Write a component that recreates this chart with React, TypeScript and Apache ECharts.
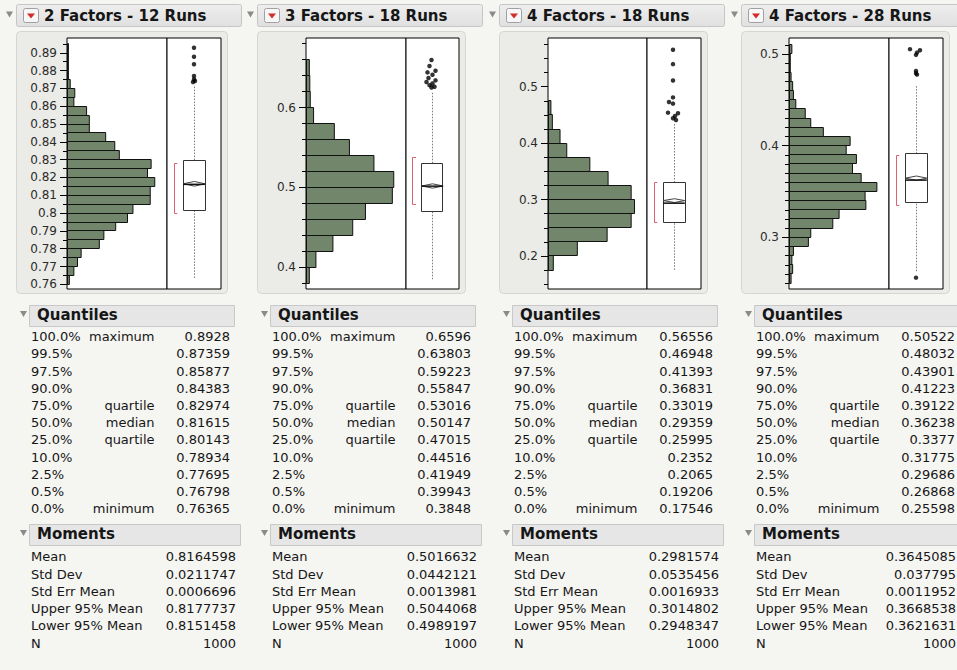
import React, { useEffect, useRef } from "react";
import * as echarts from "echarts";

// ---------------- data ----------------
const titles = ["2 Factors - 12 Runs", "3 Factors - 18 Runs", "4 Factors - 18 Runs", "4 Factors - 28 Runs"];

// histogram bins (low -> high)
const binStart = [0.76, 0.38, 0.175, 0.25];
const binWidth = [0.005, 0.02, 0.025, 0.01];
const counts1 = [2, 7, 11, 15, 35, 40, 53, 66, 72, 91, 91, 96, 88, 92, 57, 52, 42, 24, 24, 21, 7, 8, 3, 1, 1, 1, 1];
const counts2 = [6, 20, 56, 98, 125, 182, 185, 143, 91, 59, 15, 8, 7, 6];
const counts3 = [10, 60, 122, 172, 179, 172, 124, 86, 38, 24, 8, 5];
const counts4 = [2, 4, 3, 5, 24, 27, 55, 63, 97, 96, 111, 91, 80, 85, 72, 77, 43, 27, 20, 8, 5, 4, 2, 1, 1, 3];
const countsAll = [counts1, counts2, counts3, counts4];
const countMax = [110, 212, 206, 127];

// value axis ranges and ticks
const yMin = [0.7574, 0.3726, 0.1415, 0.2436];
const yMax = [0.8983, 0.6871, 0.5863, 0.5174];
const tickFrom = [0.76, 0.38, 0.15, 0.25];
const tickTo = [0.895, 0.68, 0.575, 0.51];
const tickStep = [0.005, 0.02, 0.025, 0.01];
const labels1 = [0.76, 0.77, 0.78, 0.79, 0.8, 0.81, 0.82, 0.83, 0.84, 0.85, 0.86, 0.87, 0.88, 0.89];
const labels2 = [0.4, 0.5, 0.6];
const labels3 = [0.2, 0.3, 0.4, 0.5];
const labels4 = [0.3, 0.4, 0.5];
const labelsAll = [labels1, labels2, labels3, labels4];

// box plot extras
const whiskerLow = [0.76365, 0.3848, 0.17546, 0.263];
const whiskerHigh = [0.872, 0.62, 0.435, 0.466];
const shortestLow = [0.8, 0.4791, 0.26, 0.3345];
const shortestHigh = [0.8281, 0.5376, 0.33, 0.3891];
const outliers1 = [0.8928, 0.8878, 0.8836, 0.877, 0.8752, 0.8742, 0.8736];
const outliersDx1 = [0, 0, 0, 0, 0, 1, -1];
const outliers2 = [0.6596, 0.652, 0.646, 0.644, 0.641, 0.637, 0.634, 0.632, 0.63, 0.628, 0.626, 0.625];
const outliersDx2 = [-1, -3, 3, -5, 0, -4, 3, -6, 0, -3, 2, -1];
const outliers3 = [0.56556, 0.54, 0.511, 0.481, 0.473, 0.47, 0.454, 0.453, 0.448, 0.444, 0.441];
const outliersDx3 = [-1, -1, -1, -1, -5, -1, -6, 4, 1, -1, 2];
const outliers4 = [0.50522, 0.504, 0.5015, 0.499, 0.4815, 0.479, 0.4775, 0.25598];
const outliersDx4 = [-6, 4, 1, 0, 0, 0, 1, 0];
const outliersAll = [outliers1, outliers2, outliers3, outliers4];
const outliersDxAll = [outliersDx1, outliersDx2, outliersDx3, outliersDx4];

// quantiles
const quantPct = ["100.0%", "99.5%", "97.5%", "90.0%", "75.0%", "50.0%", "25.0%", "10.0%", "2.5%", "0.5%", "0.0%"];
const quantName = ["maximum", "", "", "", "quartile", "median", "quartile", "", "", "", "minimum"];
const quant1 = ["0.8928", "0.87359", "0.85877", "0.84383", "0.82974", "0.81615", "0.80143", "0.78934", "0.77695", "0.76798", "0.76365"];
const quant2 = ["0.6596", "0.63803", "0.59223", "0.55847", "0.53016", "0.50147", "0.47015", "0.44516", "0.41949", "0.39943", "0.3848"];
const quant3 = ["0.56556", "0.46948", "0.41393", "0.36831", "0.33019", "0.29359", "0.25995", "0.2352", "0.2065", "0.19206", "0.17546"];
const quant4 = ["0.50522", "0.48032", "0.43901", "0.41223", "0.39122", "0.36238", "0.3377", "0.31775", "0.29686", "0.26868", "0.25598"];
const quantAll = [quant1, quant2, quant3, quant4];

// moments
const momName = ["Mean", "Std Dev", "Std Err Mean", "Upper 95% Mean", "Lower 95% Mean", "N"];
const mom1 = ["0.8164598", "0.0211747", "0.0006696", "0.8177737", "0.8151458", "1000"];
const mom2 = ["0.5016632", "0.0442121", "0.0013981", "0.5044068", "0.4989197", "1000"];
const mom3 = ["0.2981574", "0.0535456", "0.0016933", "0.3014802", "0.2948347", "1000"];
const mom4 = ["0.3645085", "0.037795", "0.0011952", "0.3668538", "0.3621631", "1000"];
const momAll = [mom1, mom2, mom3, mom4];

// ---------------- layout ----------------
const panelL = [16, 257, 499, 741];
const plotL = [67, 306, 548, 789];
const divX = [167, 406, 647, 889];
const plotR = [221, 459, 701, 943];
const plotTop = 38;
const plotH = 251;
const PAGE_W = 957;

const FONT = "'DejaVu Sans', Verdana, sans-serif";
const HIST_FILL = "#71866a";

function crisp(v: number) {
  return Math.round(v - 0.5) + 0.5;
}

function txt(x: number, y: number, text: string, align = "left", size = 13, weight = "normal") {
  return {
    type: "text",
    x,
    y,
    z: 10,
    style: {
      text,
      fontSize: size,
      fontWeight: weight,
      fontFamily: FONT,
      fill: "#161616",
      textAlign: align,
      align,
      textVerticalAlign: "middle",
      verticalAlign: "middle",
    },
  };
}

function tri(x: number, y: number, w: number, h: number, color: string) {
  return {
    type: "polygon",
    z: 5,
    shape: { points: [[x, y], [x + w, y], [x + w / 2, y + h]] },
    style: { fill: color },
  };
}

function buildOption() {
  const grid: any[] = [];
  const xAxis: any[] = [];
  const yAxis: any[] = [];
  const series: any[] = [];
  const graphic: any[] = [];

  for (let i = 0; i < 4; i++) {
    const L = panelL[i];
    const q = quantAll[i].map(Number);
    const m = momAll[i].map(Number);

    // grids
    const gH = grid.length;
    grid.push({
      left: plotL[i], top: plotTop, width: divX[i] - plotL[i], height: plotH,
      show: true, backgroundColor: "#ffffff", borderColor: "#000", borderWidth: 1,
      outerBoundsMode: "none", containLabel: false,
    });
    const gB = grid.length;
    grid.push({
      left: divX[i], top: plotTop, width: plotR[i] - divX[i], height: plotH,
      show: true, backgroundColor: "#ffffff", borderColor: "#000", borderWidth: 1,
      outerBoundsMode: "none", containLabel: false,
    });

    const xH = xAxis.length;
    xAxis.push({ gridIndex: gH, type: "value", min: 0, max: countMax[i], show: false });
    const xB = xAxis.length;
    xAxis.push({ gridIndex: gB, type: "value", min: 0, max: 1, show: false });

    const minor: number[] = [];
    for (let k = 0; ; k++) {
      const v = tickFrom[i] + k * tickStep[i];
      if (v > tickTo[i] + 1e-9) break;
      minor.push(Number(v.toFixed(4)));
    }

    const yMajor = yAxis.length;
    yAxis.push({
      gridIndex: gH, type: "value", min: yMin[i], max: yMax[i], position: "left",
      axisLine: { show: false },
      splitLine: { show: false },
      axisTick: { show: true, length: 7, customValues: labelsAll[i], lineStyle: { color: "#000", width: 1 } },
      axisLabel: {
        show: true, margin: 10, customValues: labelsAll[i], fontSize: 12, fontFamily: FONT, color: "#2b2b2b",
        formatter: (v: number) => String(parseFloat(Number(v).toFixed(3))),
      },
    });
    yAxis.push({
      gridIndex: gH, type: "value", min: yMin[i], max: yMax[i], position: "left",
      axisLine: { show: false },
      splitLine: { show: false },
      axisTick: { show: true, length: 4, customValues: minor, lineStyle: { color: "#000", width: 1 } },
      axisLabel: { show: false },
    });
    const yB = yAxis.length;
    yAxis.push({ gridIndex: gB, type: "value", min: yMin[i], max: yMax[i], show: false });

    // histogram
    const bins = countsAll[i].map((c, k) => [
      Number((binStart[i] + k * binWidth[i]).toFixed(4)),
      Number((binStart[i] + (k + 1) * binWidth[i]).toFixed(4)),
      c,
    ]);
    series.push({
      type: "custom",
      xAxisIndex: xH,
      yAxisIndex: yMajor,
      data: bins,
      encode: { x: 2, y: [0, 1] },
      clip: true,
      renderItem: (params: any, api: any) => {
        const lo = api.value(0);
        const hi = api.value(1);
        const c = api.value(2);
        const a = api.coord([0, hi]);
        const b = api.coord([c, lo]);
        const x0 = crisp(a[0]);
        const y0 = crisp(a[1]);
        const y1 = crisp(b[1]);
        const w = Math.max(b[0] - a[0], 0.6);
        return {
          type: "rect",
          shape: { x: x0, y: y0, width: w, height: y1 - y0 },
          style: { fill: HIST_FILL, stroke: "#111", lineWidth: 1 },
        };
      },
    });

    // box plot
    const boxData = [[q[6], q[5], q[4], m[0], m[4], m[3], whiskerLow[i], whiskerHigh[i], shortestLow[i], shortestHigh[i]]];
    series.push({
      type: "custom",
      xAxisIndex: xB,
      yAxisIndex: yB,
      data: boxData,
      encode: { y: [0, 1, 2, 3, 4, 5, 6, 7, 8, 9] },
      z: 3,
      renderItem: (params: any, api: any) => {
        const v = (k: number) => api.value(k);
        const P = (x: number, y: number) => api.coord([x, y]);
        const q1 = P(0.5, v(0));
        const md = P(0.5, v(1));
        const q3 = P(0.5, v(2));
        const mean = P(0.5, v(3));
        const lo95 = P(0.5, v(4));
        const hi95 = P(0.5, v(5));
        const wl = P(0.5, v(6));
        const wh = P(0.5, v(7));
        const bl = P(0.5, v(8));
        const bh = P(0.5, v(9));
        const left = P(0.3, 0)[0];
        const right = P(0.7, 0)[0];
        const cx = crisp(P(0.5, 0)[0]);
        const brX = crisp(P(0.13, 0)[0]);
        const brX2 = P(0.19, 0)[0];
        const dash = { stroke: "#7a7a7a", lineWidth: 1, lineDash: [1.5, 1.5] };
        return {
          type: "group",
          children: [
            { type: "line", shape: { x1: cx, y1: wl[1], x2: cx, y2: q1[1] }, style: dash },
            { type: "line", shape: { x1: cx, y1: q3[1], x2: cx, y2: wh[1] }, style: dash },
            {
              type: "rect",
              shape: { x: crisp(left), y: crisp(q3[1]), width: Math.round(right - left), height: Math.round(q1[1] - q3[1]) },
              style: { fill: "#fff", stroke: "#333", lineWidth: 1 },
            },
            {
              type: "polygon",
              shape: { points: [[left, mean[1]], [cx, hi95[1]], [right, mean[1]], [cx, lo95[1]]] },
              style: { fill: "none", stroke: "#444", lineWidth: 1 },
            },
            { type: "line", shape: { x1: left, y1: md[1], x2: right, y2: md[1] }, style: { stroke: "#111", lineWidth: 1.5 } },
            {
              type: "polyline",
              shape: { points: [[brX2, crisp(bh[1])], [brX, crisp(bh[1])], [brX, crisp(bl[1])], [brX2, crisp(bl[1])]] },
              style: { fill: "none", stroke: "#e0606e", lineWidth: 1 },
            },
          ],
        };
      },
    });

    const boxW = plotR[i] - divX[i];
    series.push({
      type: "scatter",
      xAxisIndex: xB,
      yAxisIndex: yB,
      symbol: "circle",
      symbolSize: 4.5,
      z: 4,
      itemStyle: { color: "#000" },
      data: outliersAll[i].map((val, k) => [0.5 + outliersDxAll[i][k] / boxW, val]),
    });

    // ---------- decorations & tables ----------
    // panel header
    graphic.push(tri(L - 10, 11.5, 7, 6, "#8a8a8a"));
    graphic.push({
      type: "rect", z: 1,
      shape: { x: L + 0.5, y: 4.5, width: 225, height: 22, r: 2 },
      style: {
        fill: new echarts.graphic.LinearGradient(0, 0, 0, 1, [
          { offset: 0, color: "#eeeeee" },
          { offset: 1, color: "#e0e0e0" },
        ]),
        stroke: "#c6c6c6", lineWidth: 1,
      },
    });
    graphic.push({
      type: "rect", z: 2,
      shape: { x: L + 7.5, y: 8.5, width: 15, height: 14, r: 2 },
      style: { fill: "#f7f7f7", stroke: "#a0a0a0", lineWidth: 1 },
    });
    graphic.push(tri(L + 11, 13.5, 8, 5, "#d42b2b"));
    graphic.push(txt(L + 28, 15.5, titles[i], "left", 15, "bold"));

    // plot frame
    graphic.push({
      type: "rect", z: -1,
      shape: { x: L + 0.5, y: 31.5, width: plotR[i] + 6 - L, height: 262, r: 4 },
      style: { fill: "#ebebe7", stroke: "#d5d5d1", lineWidth: 1 },
    });

    // quantiles
    graphic.push(tri(L + 4, 311, 7, 6, "#8a8a8a"));
    graphic.push({
      type: "rect", z: 1,
      shape: { x: L + 13.5, y: 305.5, width: 205, height: 21 },
      style: { fill: "#e6e6e6", stroke: "#c8c8c8", lineWidth: 1 },
    });
    graphic.push(txt(L + 21, 315, "Quantiles", "left", 15, "bold"));
    for (let r = 0; r < quantPct.length; r++) {
      const y = 336.7 + r * 17.2;
      graphic.push(txt(L + 15, y, quantPct[r]));
      if (quantName[r]) graphic.push(txt(L + 138.5, y, quantName[r], "right"));
      graphic.push(txt(Math.min(L + 214, PAGE_W - 1), y, quantAll[i][r], "right"));
    }

    // moments
    graphic.push(tri(L + 4, 530, 7, 6, "#8a8a8a"));
    graphic.push({
      type: "rect", z: 1,
      shape: { x: L + 13.5, y: 524.5, width: 211, height: 21 },
      style: { fill: "#e6e6e6", stroke: "#c8c8c8", lineWidth: 1 },
    });
    graphic.push(txt(L + 21, 534, "Moments", "left", 15, "bold"));
    for (let r = 0; r < momName.length; r++) {
      const y = 556.7 + r * 17.3;
      graphic.push(txt(L + 15, y, momName[r]));
      graphic.push(txt(Math.min(L + 220, PAGE_W - 1), y, momAll[i][r], "right"));
    }
  }

  return {
    animation: false,
    backgroundColor: "#f5f5f2",
    grid,
    xAxis,
    yAxis,
    series,
    graphic: { elements: graphic },
  };
}

export default function App() {
  const ref = useRef<HTMLDivElement>(null);
  useEffect(() => {
    if (!ref.current) return;
    const chart = echarts.init(ref.current, null, { renderer: "svg" });
    chart.setOption(buildOption() as any);
    return () => chart.dispose();
  }, []);
  return (
    <div
      ref={ref}
      style={{ position: "fixed", left: 0, top: 0, width: 957, height: 670 }}
    />
  );
}
